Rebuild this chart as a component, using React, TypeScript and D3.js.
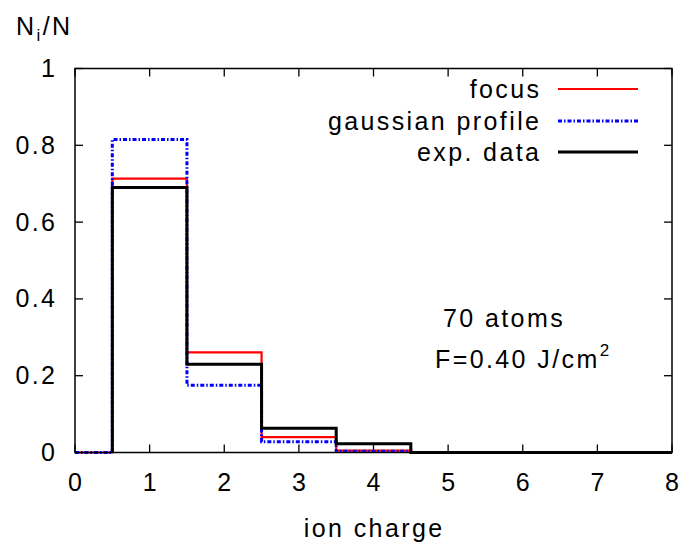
import React from "react";
import * as d3 from "d3";

const focusCharges = [0, 1, 2, 3, 4];
const focusValues = [0, 0.713, 0.261, 0.04, 0.005];
const gaussCharges = [0, 1, 2, 3, 4];
const gaussValues = [0, 0.815, 0.175, 0.028, 0.003];
const expCharges = [1, 2, 3, 4, 5, 6, 7, 8];
const expValues = [0.69, 0.23, 0.063, 0.023, 0, 0, 0, 0];
const xTicks = [0, 1, 2, 3, 4, 5, 6, 7, 8];
const yTicks = [0, 0.2, 0.4, 0.6, 0.8, 1];
const yTickLabels = ["0", "0.2", "0.4", "0.6", "0.8", "1"];

const W = 683, H = 542;
const M = { left: 75, right: 672, top: 68.5, bottom: 452.5 };

export default function App() {
  const x = d3.scaleLinear().domain([0, 8]).range([M.left, M.right]);
  const y = d3.scaleLinear().domain([0, 1]).range([M.bottom, M.top]);

  const histeps = (cs: number[], vs: number[]) => {
    const pts: [number, number][] = [];
    cs.forEach((c, i) => {
      const x0 = Math.max(0, c - 0.5);
      const x1 = Math.min(8, c + 0.5);
      if (i === 0) pts.push([x0, 0]);
      pts.push([x0, vs[i]]);
      pts.push([x1, vs[i]]);
    });
    pts.push([Math.min(8, cs[cs.length - 1] + 0.5), 0]);
    return d3.line<[number, number]>().x(d => x(d[0])).y(d => y(d[1]))(pts) || "";
  };

  const font = "'Liberation Sans', Arial, sans-serif";
  const fs = 25;
  const ls = 2.4;
  const tl = 8;
  const legendRows = [
    { label: "focus", color: "#ff0000", width: 2, dash: undefined as string | undefined },
    { label: "gaussian profile", color: "#0000ff", width: 3, dash: "4,2,1.5,2" },
    { label: "exp. data", color: "#000000", width: 3, dash: undefined },
  ];
  const legendY = [89, 121, 152];

  return (
    <svg width={W} height={H} style={{ position: "absolute", left: 0, top: 0, background: "#fff" }} fontFamily={font} letterSpacing={ls}>
      <rect x={0} y={0} width={W} height={H} fill="#fff" />
      {xTicks.map(t => (
        <g key={"x" + t}>
          <line x1={x(t)} x2={x(t)} y1={M.bottom} y2={M.bottom - tl} stroke="#000" strokeWidth={1.3} />
          <line x1={x(t)} x2={x(t)} y1={M.top} y2={M.top + tl} stroke="#000" strokeWidth={1.3} />
          <text x={x(t) + ls / 2} y={491} fontSize={fs} textAnchor="middle" fill="#000">{t}</text>
        </g>
      ))}
      {yTicks.map((t, i) => (
        <g key={"y" + t}>
          <line x1={M.left} x2={M.left + tl} y1={y(t)} y2={y(t)} stroke="#000" strokeWidth={1.3} />
          <line x1={M.right} x2={M.right - tl} y1={y(t)} y2={y(t)} stroke="#000" strokeWidth={1.3} />
          <text x={55 + ls} y={y(t) + 8.5} fontSize={fs} textAnchor="end" fill="#000">{yTickLabels[i]}</text>
        </g>
      ))}
      <path d={histeps(focusCharges, focusValues)} fill="none" stroke="#ff0000" strokeWidth={2.2} />
      <path d={histeps(gaussCharges, gaussValues)} fill="none" stroke="#0000ff" strokeWidth={3} strokeDasharray="4,2,1.5,2" />
      <path d={histeps(expCharges, expValues)} fill="none" stroke="#000" strokeWidth={3} />
      <rect x={M.left} y={M.top} width={M.right - M.left} height={M.bottom - M.top} fill="none" stroke="#000" strokeWidth={1.5} />
      {legendRows.map((r, i) => (
        <g key={r.label}>
          <text x={539 + ls} y={legendY[i] + 9} fontSize={fs} textAnchor="end" fill="#000">{r.label}</text>
          <line x1={558} x2={638} y1={legendY[i]} y2={legendY[i]} stroke={r.color} strokeWidth={r.width} strokeDasharray={r.dash} />
        </g>
      ))}
      <text x={443} y={327} fontSize={fs} fill="#000">70 atoms</text>
      <text x={435} y={368} fontSize={fs} fill="#000">F=0.40 J/cm<tspan dy={-12} fontSize={17}>2</tspan></text>
      <text x={16} y={35} fontSize={fs} fill="#000">N<tspan dy={6} fontSize={17}>i</tspan><tspan dy={-6}>/N</tspan></text>
      <text x={373 + ls / 2} y={537} fontSize={fs} textAnchor="middle" fill="#000">ion charge</text>
    </svg>
  );
}
